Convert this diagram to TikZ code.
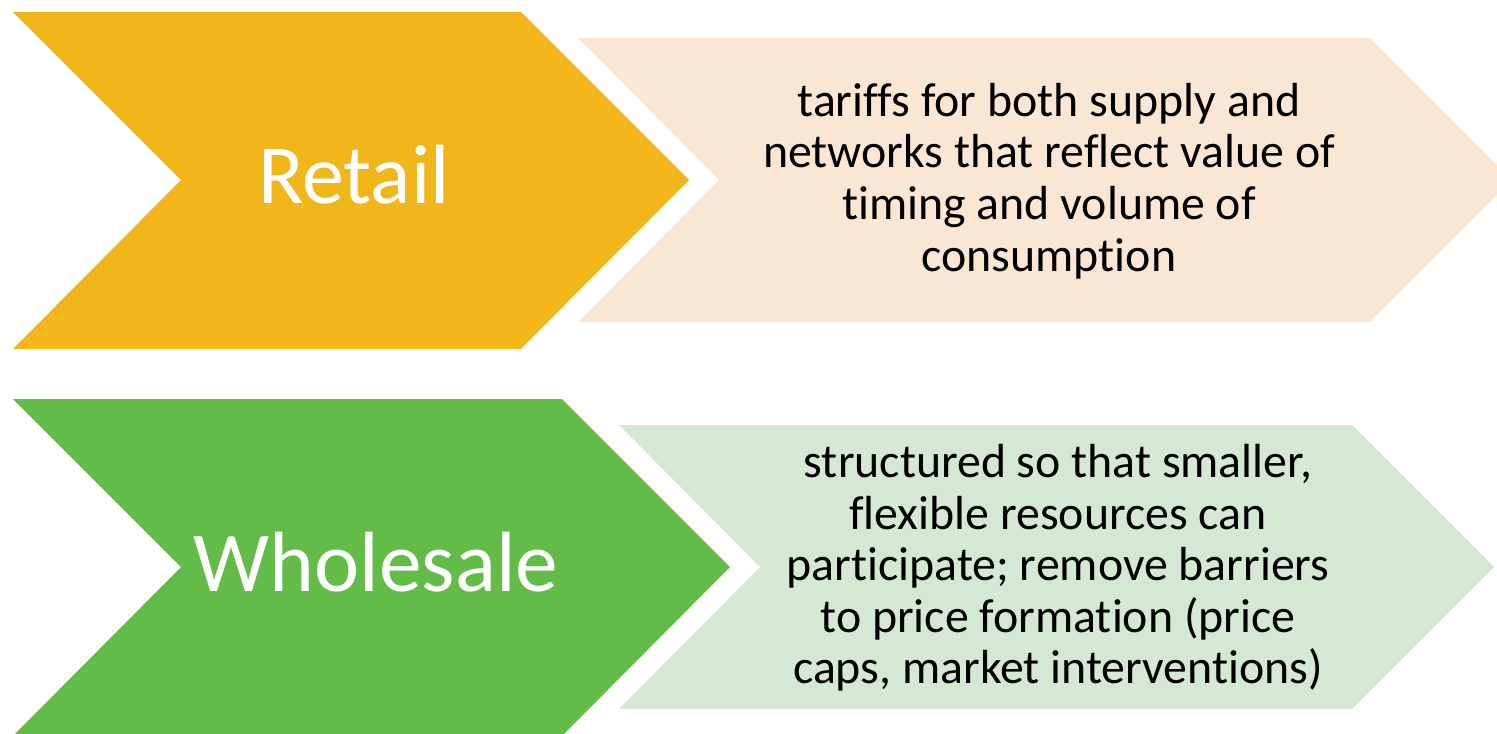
\documentclass[tikz,border=0pt]{standalone}
\usepackage{fontspec}
\setmainfont{Carlito}[Ligatures=NoCommon]
\definecolor{retailYellow}{HTML}{F1B71A}
\definecolor{retailLight}{HTML}{F9E7D3}
\definecolor{saleGreen}{HTML}{62BC47}
\definecolor{saleLight}{HTML}{D5E8D4}
\begin{document}
\begin{tikzpicture}
[x=0.01cm, y=-0.01cm,
 titleDecorate/.style={text=white, anchor=base, inner sep=0pt},
 textDecorate/.style={text=black, align=center, inner sep=0pt,
   font=\fontsize{13.6}{14.65}\selectfont}]

 \useasboundingbox (0,0) rectangle (1497,733);

 % chevrons, top row
 \fill[retailYellow] (13,12) -- (521,12) -- (689,180) -- (521,349) -- (13,349) -- (181,180) -- cycle;
 \fill[retailLight] (578,38) -- (1370,38) -- (1512,180) -- (1370,322) -- (578,322) -- (719,180) -- cycle;

 % chevrons, bottom row
 \fill[saleGreen] (13,399) -- (562,399) -- (730,567) -- (562,736) -- (13,736) -- (181,567) -- cycle;
 \fill[saleLight] (619,425) -- (1352,425) -- (1494,567) -- (1352,709) -- (619,709) -- (760,567) -- cycle;

 \node (retail) at (354,203) [titleDecorate, font=\fontsize{23.9}{28}\selectfont] {Retail};
 \node (wholesale) at (376,591) [titleDecorate, font=\fontsize{24.3}{29}\selectfont] {Wholesale};

 \node (retailText) at (1049,181) [textDecorate]
   {tariffs for both supply and\\networks that reflect value of\\timing and volume of\\consumption};
 \node (wholesaleText) at (1058,568) [textDecorate]
   {structured so that smaller,\\flexible resources can\\participate; remove barriers\\to price formation (price\\caps, market interventions)};
\end{tikzpicture}
\end{document}
